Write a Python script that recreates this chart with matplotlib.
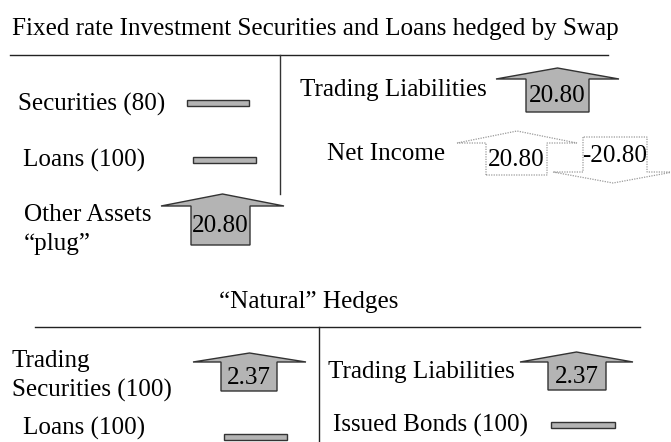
import matplotlib
matplotlib.use("Agg")
import matplotlib.pyplot as plt
from matplotlib.patches import Polygon, Rectangle

plt.rcParams['font.family'] = 'serif'
plt.rcParams['font.serif'] = ['Liberation Serif', 'DejaVu Serif']

# ---- data ----
title_top = "Fixed rate Investment Securities and Loans hedged by Swap"
title_bottom = "\u201cNatural\u201d Hedges"
top_left_labels = ["Securities (80)", "Loans (100)", "Other Assets\n\u201cplug\u201d"]
top_left_values = [0.0, 0.0, 20.80]
top_right_labels = ["Trading Liabilities", "Net Income"]
top_right_values = [20.80, 20.80]
net_income_offset = [-20.80]
bottom_left_labels = ["Trading\nSecurities (100)", "Loans (100)"]
bottom_left_values = [2.37, 0.0]
bottom_right_labels = ["Trading Liabilities", "Issued Bonds (100)"]
bottom_right_values = [2.37, 0.0]

FILL = "#b4b4b4"
EDGE = "#333333"
FS = 18.1
DY = 2  # small downward nudge so glyph centres sit like the reference

fig = plt.figure(figsize=(6.71, 4.42), dpi=100)
ax = fig.add_axes([0, 0, 1, 1])
ax.set_xlim(0, 671)
ax.set_ylim(442, 0)
ax.axis("off")


def fmt(v):
    return f"{v:.2f}"


def label(x, y, s, gap=29, **kw):
    for i, line in enumerate(s.split("\n")):
        ax.text(x, y + DY + i * gap, line, fontsize=FS, va="center",
                ha="left", color="black", **kw)


def arrow(x0, x1, hx0, hx1, y_flat, y_head, y_tip, value, dotted=False):
    """Block arrow: body from x0..x1 spanning y_flat..y_head,
    head from hx0..hx1 at y_head with point at y_tip."""
    cx = (hx0 + hx1) / 2
    pts = [(x0, y_flat), (x0, y_head), (hx0, y_head), (cx, y_tip),
           (hx1, y_head), (x1, y_head), (x1, y_flat)]
    if dotted:
        p = Polygon(pts, closed=True, facecolor="white", edgecolor="#9a9a9a",
                    lw=0.9, ls=(0, (1.0, 1.0)))
    else:
        p = Polygon(pts, closed=True, facecolor=FILL, edgecolor=EDGE, lw=1.0)
    ax.add_patch(p)
    ty = (y_flat + y_head) / 2 + 1
    ax.text((x0 + x1) / 2, ty, fmt(value), ha="center", va="center",
            fontsize=FS, color="black")


def flat_bar(x0, x1, y, h=6):
    ax.add_patch(Rectangle((x0, y - h / 2), x1 - x0, h, facecolor=FILL,
                           edgecolor=EDGE, lw=1.0))


# ---- top section ----
ax.text(12, 27 + DY, title_top, fontsize=FS, va="center", ha="left")
ax.plot([10, 608], [55, 55], color="#222222", lw=1.0)
ax.plot([280, 280], [55, 194], color="#333333", lw=1.0)

label(18, 102, top_left_labels[0])
flat_bar(187, 249, 103)
label(23, 158, top_left_labels[1])
flat_bar(193, 256, 160)
label(24, 213, top_left_labels[2])
arrow(191, 250, 161, 284, 245, 206, 194, top_left_values[2])

label(300, 88, top_right_labels[0])
arrow(526, 589, 496, 619, 112, 79, 68, top_right_values[0])
label(327, 152, top_right_labels[1])
arrow(486, 547, 457, 577, 175, 143, 131, top_right_values[1], dotted=True)
arrow(583, 647, 553, 673, 137, 172, 183, net_income_offset[0], dotted=True)

# ---- bottom section ----
ax.text(309, 300 + DY, title_bottom, fontsize=FS, va="center", ha="center")
ax.plot([35, 640], [327, 327], color="#222222", lw=1.0)
ax.plot([318.5, 318.5], [327, 442], color="#222222", lw=1.0)

label(12, 359, bottom_left_labels[0])
arrow(221, 277, 193, 306, 391, 362, 353, bottom_left_values[0])
label(23, 426, bottom_left_labels[1])
flat_bar(224, 287, 437)

label(328, 370, bottom_right_labels[0])
arrow(548, 606, 520, 633, 390, 362, 352, bottom_right_values[0])
label(333, 423, bottom_right_labels[1])
flat_bar(551, 615, 424.5)

fig.savefig("out.png", dpi=100)
